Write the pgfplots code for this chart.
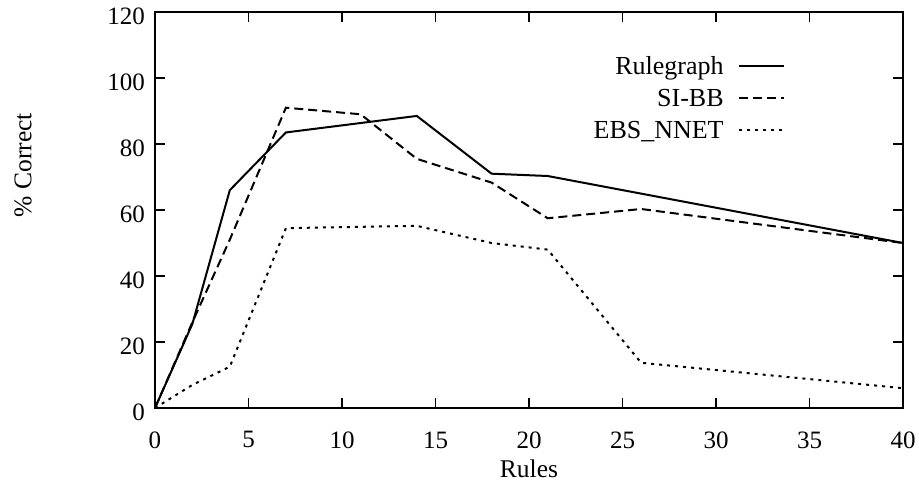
\documentclass[border=0pt]{standalone}
\usepackage{pgfplots}
\pgfplotsset{compat=1.18}
\usepackage{fontspec}
\setmainfont{Liberation Serif}

\pgfplotstableread{
x y
0 0
2 25.5
4 66
7 83.5
14 88.5
18 71
21 70.3
40 50
}\rulegraph
\pgfplotstableread{
x y
0 0
2 26
4 51
7 91
11 89
14 75.5
18 68.3
21 57.5
26 60.3
40 50
}\sibb
\pgfplotstableread{
x y
0 0
2 7
4 12.5
7 54.5
14 55.2
18 50
21 48
26 13.7
40 6
}\ebsnnet

\begin{document}
\begin{tikzpicture}
\begin{axis}[
    scale only axis,
    width=748pt, height=396pt,
    xmin=0, xmax=40, ymin=0, ymax=120,
    xtick={0,5,...,40}, ytick={0,20,...,120},
    axis line style={line width=2pt},
    tick style={line width=1.5pt, black},
    major tick length=10pt,
    tick align=inside,
    ticklabel style={font=\fontsize{25}{29}\selectfont},
    xticklabel style={yshift=-20pt},
    yticklabel style={xshift=-6.5pt, yshift=-4pt},
    /pgf/number format/assume math mode=true,
    legend plot pos=right,
    legend cell align=right,
    legend style={at={(0.842,0.893)}, anchor=north east, draw=none, fill=none,
        inner sep=0pt, font=\fontsize{26}{30}\selectfont, row sep=9pt, column sep=12pt},
    legend image code/.code={\draw[#1] (0pt,0pt) -- (45pt,0pt);},
]
\addplot[black, line width=2pt] table {\rulegraph};
\addlegendentry{Rulegraph}
\addplot[black, line width=2pt, dash pattern=on 9pt off 5pt] table {\sibb};
\addlegendentry{SI-BB}
\addplot[black, line width=2pt, dash pattern=on 3pt off 5pt] table {\ebsnnet};
\addlegendentry{EBS\_NNET}
\end{axis}
\node[rotate=90, font=\fontsize{25.5}{30}\selectfont] at ([xshift=-132pt, yshift=45pt]current axis.west) {\% Correct};
\node[font=\fontsize{25.5}{30}\selectfont] at ([yshift=-61pt]current axis.south) {Rules};
\path ([shift={(-155pt,-83pt)}]current axis.south west) rectangle ([shift={(16pt,12pt)}]current axis.north east);
\end{tikzpicture}
\end{document}
